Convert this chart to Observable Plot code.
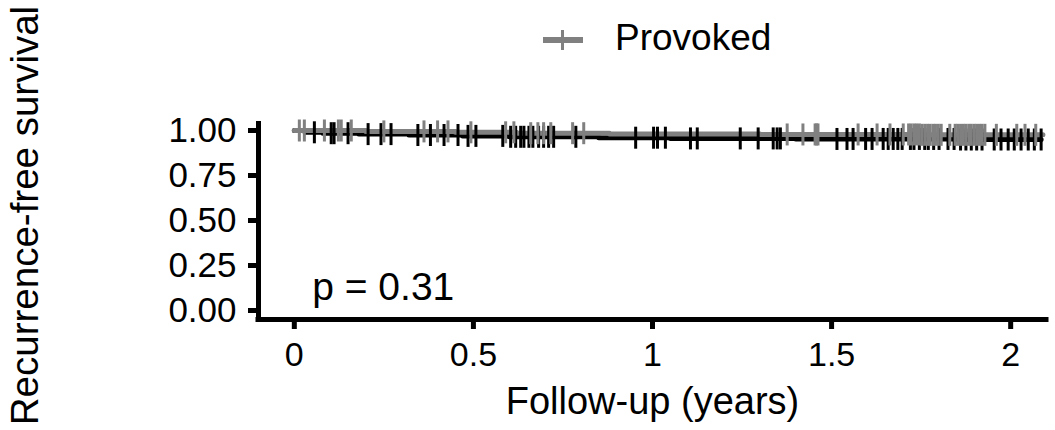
<!DOCTYPE html>
<html>
<head>
<meta charset="utf-8">
<script src="https://cdn.jsdelivr.net/npm/d3@7"></script>
<script src="https://cdn.jsdelivr.net/npm/@observablehq/plot@0.6"></script>
<style>
  html, body { margin: 0; padding: 0; background: #fff; }
  #wrap { position: relative; width: 1055px; height: 430px; overflow: hidden; font-family: "Liberation Sans", Arial, sans-serif; }
  #legend { position: absolute; left: 0; top: 0; width: 1055px; height: 80px; pointer-events: none; }
  #legend .key { position: absolute; left: 543px; top: 20px; width: 40px; height: 40px; }
  #legend .key .h { position: absolute; left: 0; top: 17px; width: 40px; height: 6px; background: #808080; }
  #legend .key .v { position: absolute; left: 18px; top: 10px; width: 3px; height: 20px; background: #808080; }
  #legend .lab { position: absolute; left: 615px; top: 18px; font-size: 37px; line-height: 40px; color: #000; }
</style>
</head>
<body>
<div id="wrap">
  <div id="chart"></div>
  <div id="legend"><div class="key"><div class="h"></div><div class="v"></div></div><div class="lab" id="legendLabel"></div></div>
</div>
<script>
// ---- data ----
const legendLabel = "Provoked";
const xLabel = "Follow-up (years)";
const yLabel = "Recurrence-free survival";
const pLabel = "p = 0.31";

const xDomain = [-0.1, 2.1];
const yDomain = [-0.05, 1.05];
const xTicks = [0, 0.5, 1, 1.5, 2];
const xTickLabels = ["0", "0.5", "1", "1.5", "2"];
const yTicks = [0, 0.25, 0.5, 0.75, 1];
const yTickLabels = ["0.00", "0.25", "0.50", "0.75", "1.00"];

// black stratum: step curve
const blackTime = [0, 0.03, 0.08, 0.18, 0.32, 0.47, 0.6, 0.85, 1.05, 1.4, 1.85, 2.085];
const blackSurv = [1, 0.99, 0.985, 0.98, 0.975, 0.97, 0.965, 0.96, 0.956, 0.953, 0.95, 0.95];
// grey stratum (Provoked): step curve
const greyTime = [0, 0.2, 0.45, 0.62, 0.88, 1.3, 1.75, 2.09];
const greySurv = [1, 0.995, 0.99, 0.985, 0.98, 0.978, 0.976, 0.976];

// censoring times
const blackCensor = [0.056, 0.103, 0.111, 0.15, 0.206, 0.242, 0.27, 0.345, 0.38, 0.418, 0.457, 0.485,
  0.507, 0.582, 0.604, 0.618, 0.632, 0.641, 0.655, 0.666, 0.682, 0.696, 0.71, 0.724, 0.786, 0.953,
  1.003, 1.014, 1.036, 1.106, 1.125, 1.245, 1.295, 1.337, 1.348, 1.357, 1.515, 1.543,
  1.56, 1.595, 1.613, 1.644, 1.658, 1.672, 1.685, 1.697, 1.72, 1.73, 1.745, 1.76, 1.77, 1.785, 1.8,
  1.825, 1.842, 1.86, 1.875, 1.89, 1.905, 1.92, 1.954, 1.973, 1.993, 2.01, 2.029, 2.049, 2.066, 2.085];
const greyCensor = [0.014, 0.028, 0.084, 0.123, 0.131, 0.159, 0.25, 0.362, 0.4, 0.429, 0.493, 0.59,
  0.613, 0.66, 0.68, 0.696, 0.716, 0.777, 0.808, 1.376, 1.42, 1.454, 1.458, 1.462,
  1.574, 1.627, 1.663, 1.70, 1.715, 1.722, 1.73, 1.737, 1.745, 1.752, 1.76, 1.768, 1.775, 1.783,
  1.79, 1.798, 1.806, 1.83, 1.845, 1.852, 1.86, 1.868, 1.875, 1.883, 1.89, 1.898, 1.905, 1.913,
  1.92, 1.928, 1.96, 2.017, 2.04, 2.07];

// ---- build tables ----
const stepAt = (times, surv, t) => { let s = surv[0]; for (let i = 0; i < times.length; i++) if (times[i] <= t) s = surv[i]; return s; };
const blackLine = blackTime.map((t, i) => ({t, s: blackSurv[i]}));
const greyLine = greyTime.map((t, i) => ({t, s: greySurv[i]}));
const blackCens = blackCensor.map(t => ({t, s: stepAt(blackTime, blackSurv, t)}));
const greyCens = greyCensor.map(t => ({t, s: stepAt(greyTime, greySurv, t)}));

const vtick = { draw(ctx, size) { const h = Math.sqrt(size / Math.PI); ctx.moveTo(0, -h); ctx.lineTo(0, h); } };
const grey = "#808080";
const font = "'Liberation Sans', Arial, sans-serif";

const chart = Plot.plot({
  width: 1055,
  height: 430,
  marginLeft: 258,
  marginRight: 9,
  marginTop: 121,
  marginBottom: 111,
  style: { fontFamily: font, background: "white", color: "black", overflow: "visible" },
  x: { domain: xDomain },
  y: { domain: yDomain },
  marks: [
    Plot.line(blackLine, { x: "t", y: "s", curve: "step-after", stroke: "black", strokeWidth: 5 }),
    Plot.line(greyLine, { x: "t", y: "s", curve: "step-after", stroke: grey, strokeWidth: 5 }),
    Plot.dot(blackCens, { x: "t", y: "s", symbol: vtick, r: 11, fill: "none", stroke: "black", strokeWidth: 3 }),
    Plot.dot(greyCens, { x: "t", y: "s", symbol: vtick, r: 11, fill: "none", stroke: grey, strokeWidth: 3 }),
    Plot.text([pLabel], { x: 0.05, y: 0.125, text: d => d, textAnchor: "start", fontSize: 39, fontFamily: font, fill: "black" }),
    Plot.axisY({ ticks: yTicks, tickFormat: (d, i) => yTickLabels[i], tickSize: 10, tickPadding: 12, strokeWidth: 5, fontSize: 35, fontFamily: font, label: null, stroke: "black", fill: "black" }),
    Plot.axisX({ ticks: xTicks, tickFormat: (d, i) => xTickLabels[i], tickSize: 10, tickPadding: 12, strokeWidth: 5, fontSize: 34, fontFamily: font, label: null, stroke: "black", fill: "black" }),
    Plot.ruleX([xDomain[0]], { stroke: "black", strokeWidth: 5 }),
    Plot.ruleY([yDomain[0]], { stroke: "black", strokeWidth: 5, strokeLinecap: "square" }),
    Plot.text([yLabel], { frameAnchor: "left", textAnchor: "middle", text: d => d, rotate: -90, dx: -233, dy: -5, fontSize: 38.5, fontFamily: font, fill: "black" }),
    Plot.text([xLabel], { frameAnchor: "bottom", text: d => d, dy: 94, fontSize: 38, fontFamily: font, fill: "black" })
  ]
});
document.getElementById("chart").appendChild(chart);
document.getElementById("legendLabel").textContent = legendLabel;
</script>
</body>
</html>
